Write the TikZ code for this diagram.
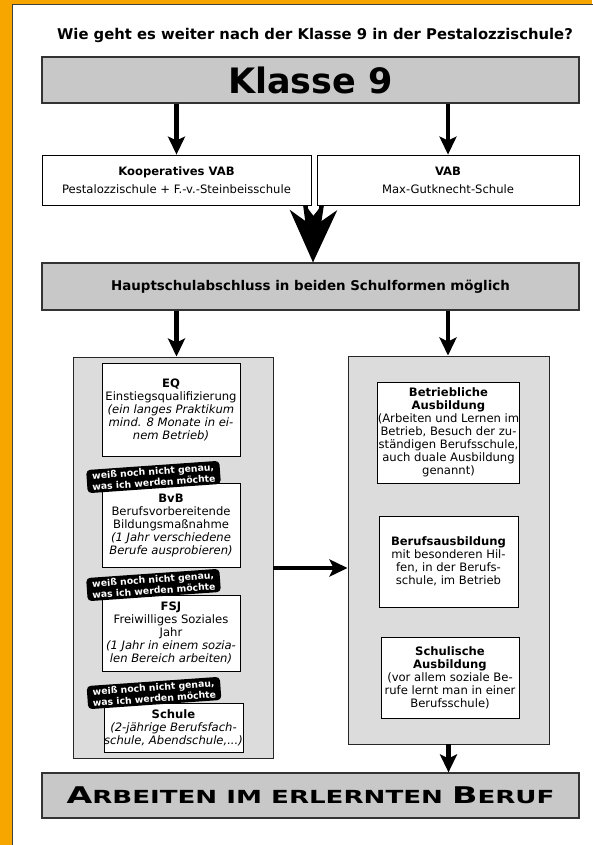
\documentclass[tikz,border=0pt]{standalone}
\usepackage{fontspec}
\setmainfont{DejaVu Sans}
\newfontfamily\breit{DejaVu Sans}[FakeStretch=1.45]
\usetikzlibrary{arrows.meta}

\definecolor{rahmen}{RGB}{247,166,0}
\definecolor{balkengrau}{RGB}{200,200,200}
\definecolor{feldgrau}{RGB}{220,220,220}

\newcommand{\kapitaelchen}[2]{{\fontsize{23}{23}\selectfont #1}{\fontsize{18}{18}\selectfont #2}}

\begin{document}
\begin{tikzpicture}[x=1pt,y=-1pt,
  balken/.style={draw=black!80,line width=1.2pt,fill=balkengrau,minimum width=537pt,minimum height=46pt,inner sep=0pt},
  kasten/.style={draw=black,line width=0.8pt,fill=white,align=center,inner sep=0pt,font=\fontsize{11.6}{13}\selectfont},
  feld/.style={draw=black!85,line width=0.9pt,fill=feldgrau,inner sep=0pt},
  zettel/.style={fill=black,text=white,rounded corners=4pt,rotate=4,align=center,inner xsep=5pt,inner ysep=2.5pt,font=\bfseries\fontsize{9.3}{11}\selectfont},
  pfeil/.style={line width=4.5pt,-{Stealth[length=18pt,width=17pt,inset=4pt]}},
  dickpfeil/.style={line width=4.5pt,-{Stealth[length=55pt,width=32pt,inset=15pt]}}]
\useasboundingbox (0,0) rectangle (592,845);
\fill[rahmen] (0,0) rectangle (592,845);
\draw[black!75,line width=1pt,fill=white] (12.5,4.5) rectangle (600,850);

\node[font=\bfseries\fontsize{14.8}{16}\selectfont] (frage) at (315,35) {Wie geht es weiter nach der Klasse 9 in der Pestalozzischule?};
\node[balken,font=\bfseries\fontsize{35}{35}\selectfont] (klasse) at (310.5,80) {Klasse 9};
\node[kasten,font=\fontsize{11.6}{18}\selectfont,minimum width=269pt,minimum height=50pt] (kvab) at (176.5,180) {\textbf{Kooperatives VAB}\\Pestalozzischule + F.-v.-Steinbeisschule};
\node[kasten,font=\fontsize{11.6}{18}\selectfont,minimum width=262pt,minimum height=50pt] (vab) at (448,180) {\textbf{VAB}\\Max-Gutknecht-Schule};
\node[balken,minimum height=47pt,font=\bfseries\fontsize{13.4}{15}\selectfont] (hsa) at (310.5,286.5) {Hauptschulabschluss in beiden Schulformen möglich};

\node[feld,minimum width=200pt,minimum height=401pt] (links) at (173,557.5) {};
\node[feld,minimum width=201pt,minimum height=388pt] (rechts) at (448.5,550) {};

\node[kasten,minimum width=138pt,minimum height=93pt] (eq) at (171,409.5) {\textbf{EQ}\\Einstiegsqualifizierung\\\textit{(ein langes Praktikum}\\\textit{mind. 8 Monate in ei-}\\\textit{nem Betrieb)}};
\node[kasten,minimum width=138pt,minimum height=84pt] (bvb) at (171,525) {\textbf{BvB}\\Berufsvorbereitende\\Bildungsmaßnahme\\\textit{(1 Jahr verschiedene}\\\textit{Berufe ausprobieren)}};
\node[kasten,minimum width=138pt,minimum height=76pt] (fsj) at (171,633) {\textbf{FSJ}\\Freiwilliges Soziales\\Jahr\\\textit{(1 Jahr in einem sozia-}\\\textit{len Bereich arbeiten)}};
\node[kasten,minimum width=139pt,minimum height=49pt] (schule) at (173.5,727.5) {\textbf{Schule}\\\textit{(2-jährige Berufsfach-}\\\textit{schule, Abendschule,...)}};

\node[zettel] (zettel1) at (153.5,477) {weiß noch nicht genau,\\was ich werden möchte};
\node[zettel] (zettel2) at (153.5,585) {weiß noch nicht genau,\\was ich werden möchte};
\node[zettel] (zettel3) at (154,693) {weiß noch nicht genau,\\was ich werden möchte};

\node[kasten,minimum width=139pt,minimum height=101pt] (betr) at (448.5,432.5) {\textbf{Betriebliche}\\\textbf{Ausbildung}\\(Arbeiten und Lernen im\\Betrieb, Besuch der zu-\\ständigen Berufsschule,\\auch duale Ausbildung\\genannt)};
\node[kasten,minimum width=139pt,minimum height=91pt] (beruf) at (448.5,561.5) {\textbf{Berufsausbildung}\\mit besonderen Hil-\\fen, in der Berufs-\\schule, im Betrieb};
\node[kasten,minimum width=138pt,minimum height=81pt] (schul) at (450,677.5) {\textbf{Schulische}\\\textbf{Ausbildung}\\(vor allem soziale Be-\\rufe lernt man in einer\\Berufsschule)};

\node[balken,minimum height=45pt,font=\breit\bfseries\fontsize{18}{18}\selectfont] (ende) at (310.5,795.5) {\kapitaelchen{A}{RBEITEN} \kapitaelchen{}{IM ERLERNTEN} \kapitaelchen{B}{ERUF}};

\draw[pfeil] (kvab |- klasse.south) -- (kvab.north);
\draw[pfeil] (vab |- klasse.south) -- (vab.north);
\draw[dickpfeil] ([xshift=-6pt]kvab.south east) -- ([xshift=2.5pt]hsa.north);
\draw[dickpfeil] ([xshift=5pt]vab.south west) -- ([xshift=2.5pt]hsa.north);
\draw[pfeil] (kvab |- hsa.south) -- (kvab |- links.north);
\draw[pfeil] (vab |- hsa.south) -- (vab |- rechts.north);
\draw[pfeil] ([yshift=-10.5pt]links.east) -- ([yshift=-10.5pt]links.east -| rechts.west);
\draw[pfeil] (rechts.south) -- (rechts.south |- ende.north);
\end{tikzpicture}
\end{document}
